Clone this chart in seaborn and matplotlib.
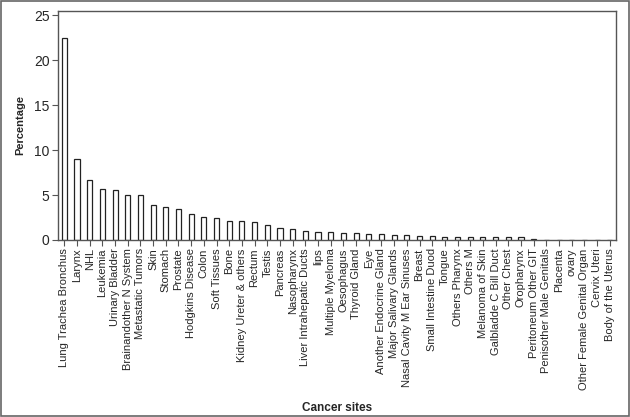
import seaborn as sns
import numpy as np
import matplotlib.pyplot as plt
from matplotlib.patches import Rectangle

sites = ["Lung Trachea Bronchus", "Larynx", "NHL", "Leukemia", "Urinary Bladder",
         "Brainandother N System", "Metastatic Tumors", "Skin", "Stomach", "Prostate",
         "Hodgkins Disease", "Colon", "Soft Tissues", "Bone", "Kidney Ureter & others",
         "Rectum", "Testis", "Pancreas", "Nasopharynx", "Liver Intrahepatic Ducts",
         "lips", "Multiple Myeloma", "Oesophagus", "Thyroid Gland", "Eye",
         "Another Endocrine Gland", "Major Salivary Glands", "Nasal Cavity M Ear Sinuses",
         "Breast", "Small Intestine Duod", "Tongue", "Others Pharynx", "Others M",
         "Melanoma of Skin", "Galbladde C Bill Duct", "Other Chest", "Oropharynx",
         "Peritoneum Other GIT", "Penisother Male Genitals", "Placenta", "ovary",
         "Other Female Genital Organ", "Cervix Uteri", "Body of the Uterus"]
percentage = [22.5, 9.05, 6.7, 5.65, 5.55,
              4.98, 4.98, 3.85, 3.65, 3.5,
              2.85, 2.55, 2.4, 2.1, 2.1,
              1.97, 1.7, 1.3, 1.25, 0.95,
              0.88, 0.88, 0.75, 0.73, 0.67,
              0.67, 0.52, 0.51, 0.45, 0.44,
              0.3, 0.3, 0.3, 0.3, 0.3, 0.3, 0.3,
              0.07, 0, 0, 0, 0, 0, 0]

sns.set_style("white")
plt.rcParams['font.family'] = ['Liberation Sans', 'DejaVu Sans']

fig = plt.figure(figsize=(6.3, 4.17), dpi=100)
ax = fig.add_axes([0.092, 0.4245, 0.886, 0.55])

sns.barplot(x=sites, y=percentage, color="white", saturation=1, edgecolor="#222222",
            linewidth=0.9, width=0.4, ax=ax)

ax.set_xlim(-0.5, len(sites) - 0.5)
ax.set_ylim(0, 25.5)
ax.set_yticks(np.arange(0, 26, 5))
ax.tick_params(axis="y", labelsize=10, length=4, width=0.8, color="#555555", left=True, pad=2)
ax.tick_params(axis="x", labelsize=8, length=4, width=0.8, color="#555555", bottom=True,
               rotation=90, pad=2)
for s in ax.spines.values():
    s.set_color("#555555")
    s.set_linewidth(1.0)

ax.set_ylabel("Percentage", fontsize=8, fontweight="bold", labelpad=6)
ax.set_xlabel("Cancer sites", fontsize=8.5, fontweight="bold")
ax.xaxis.set_label_coords(0.5, -0.705)

fig.patches.append(Rectangle((0.002, 0.002), 0.996, 0.996, transform=fig.transFigure,
                             fill=False, edgecolor="#666666", linewidth=1.2))

plt.savefig("out.png", dpi=100)
